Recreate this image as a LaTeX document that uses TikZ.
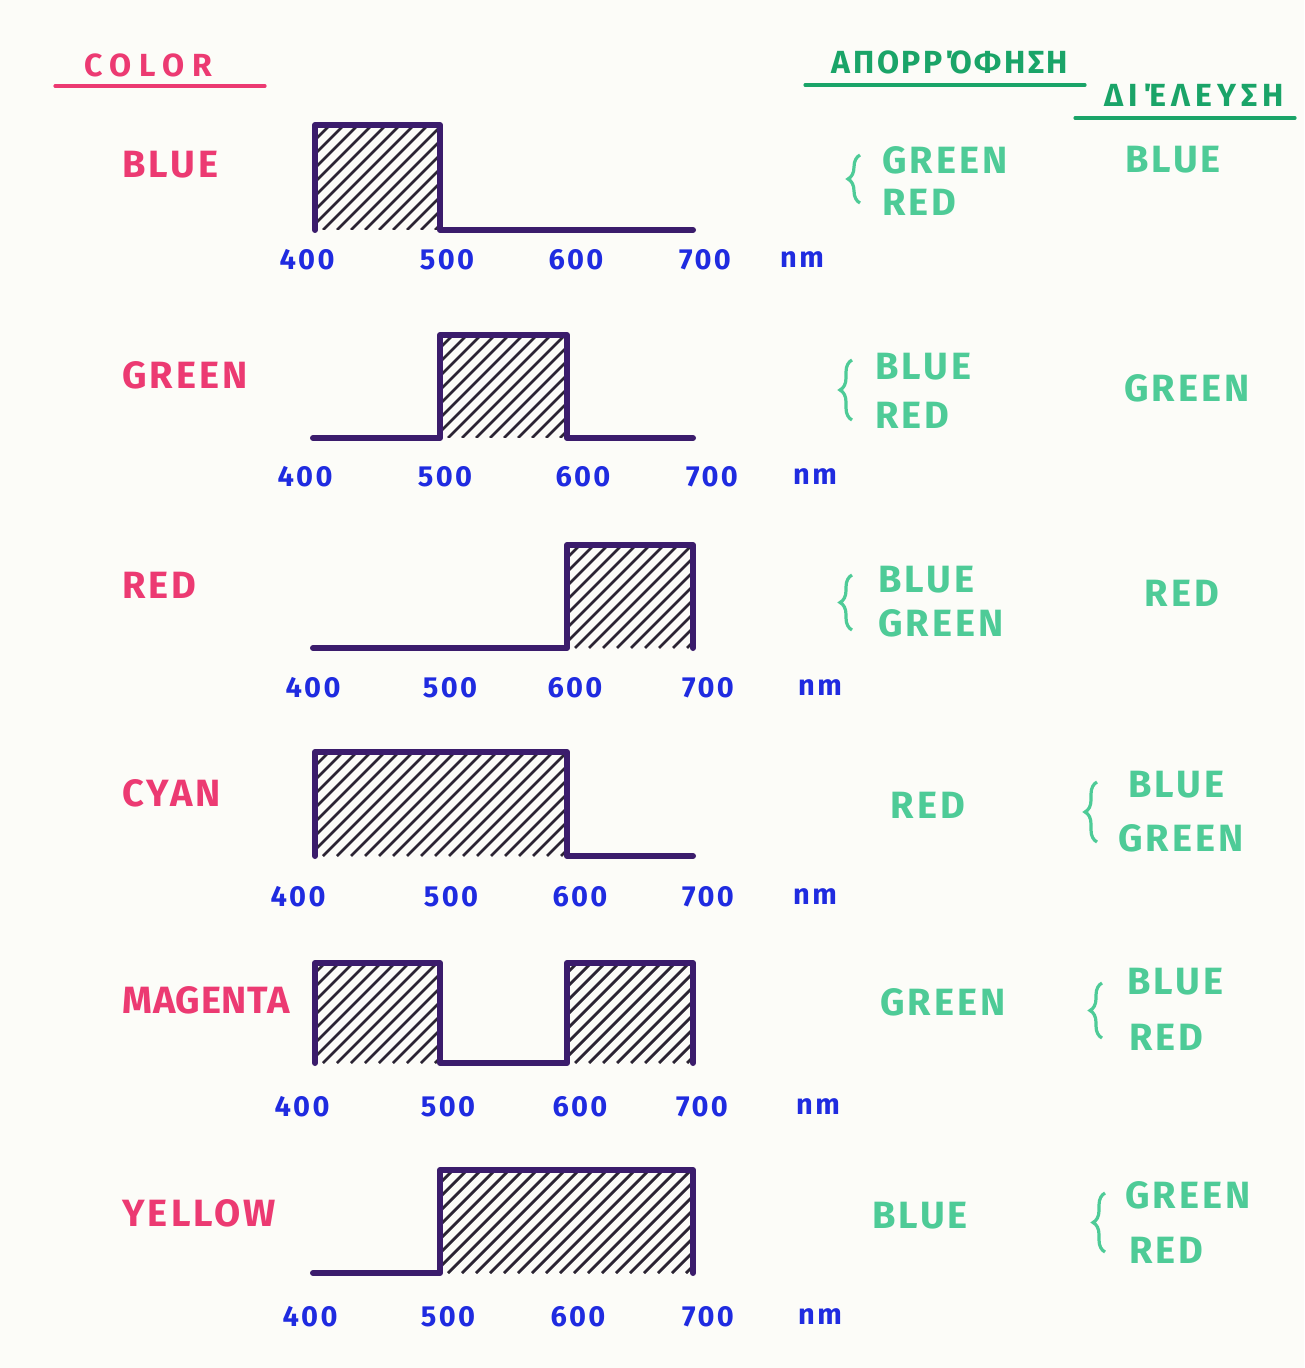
\documentclass[tikz,border=0pt]{standalone}
\usepackage{fontspec}
\setmainfont{Fira Sans}[LetterSpace=8]
\usetikzlibrary{decorations.pathreplacing}
\definecolor{colorpink}{HTML}{EC3A72}
\definecolor{mintgreen}{HTML}{4ECB97}
\definecolor{headgreen}{HTML}{1AA468}
\definecolor{tickblue}{HTML}{1F2BE0}
\definecolor{curvepurple}{HTML}{3B1C6C}
\definecolor{hatchgray}{HTML}{2B2433}
\definecolor{paper}{HTML}{FCFCF8}
\tikzset{
  colorlabel/.style={font=\bfseries\fontsize{19}{22}\selectfont, text=colorpink,
                     anchor=west, inner sep=0pt},
  mintlabel/.style={font=\bfseries\fontsize{19}{22}\selectfont, text=mintgreen, inner sep=0pt},
  mintleft/.style={mintlabel, anchor=west},
  headlabel/.style={font=\bfseries\fontsize{16}{19}\selectfont, text=headgreen, inner sep=0pt},
  ticklabel/.style={font=\bfseries\fontsize{14.5}{17}\selectfont, text=tickblue, inner sep=0pt},
  curve/.style={draw=curvepurple, line width=3pt, line join=round, line cap=round},
  hatchline/.style={draw=hatchgray, line width=1.4pt},
  mintbrace/.style={draw=mintgreen, line width=1.6pt, decorate,
                    decoration={brace, amplitude=6pt}},
  underline/.style={line width=1.6pt, line cap=round},
}
\newcommand{\hatchbox}[4]{%
  \begin{scope}
    \clip (#1,#2) rectangle (#3,#4);
    \foreach \s in {0,14,...,600}
      \draw[hatchline] ({#1-300+\s},#4) -- ++(300,-300);
  \end{scope}}

\begin{document}
\begin{tikzpicture}[x=0.5pt, y=-0.5pt]
  \fill[paper] (0,0) rectangle (1304,1368);
  \useasboundingbox (0,0) rectangle (1304,1368);

  % headings
  \node[colorlabel, font=\bfseries\fontsize{16}{19}\selectfont\addfontfeature{LetterSpace=24}]
    (hdColor) at (84,65) {COLOR};
  \draw[underline, colorpink] (55,86) -- (265,86);
  \node[headlabel] (hdAbs) at (950,62) {ΑΠΟΡΡΌΦΗΣΗ};
  \draw[underline, headgreen] (805,85) -- (1085,85);
  \node[headlabel, font=\bfseries\fontsize{16}{19}\selectfont\addfontfeature{LetterSpace=16}]
    (hdTrans) at (1194,95) {ΔΙΈΛΕΥΣΗ};
  \draw[underline, headgreen] (1075,118) -- (1295,118);

  % row 1: blue
  \node[colorlabel] (clrBlue) at (122,165) {BLUE};
  \hatchbox{315}{125}{440}{230}
  \draw[curve] (315,230) -- (315,125) -- (440,125) -- (440,230) -- (693,230);
  \node[ticklabel] (blueA) at (307,260) {400};
  \node[ticklabel] (blueB) at (447,260) {500};
  \node[ticklabel] (blueC) at (576,260) {600};
  \node[ticklabel] (blueD) at (705,260) {700};
  \node[ticklabel] (blueNm) at (802,260) {nm};
  \draw[mintbrace] (860,203) -- (860,155);
  \node[mintleft] (absBlueA) at (882,160) {GREEN};
  \node[mintleft] (absBlueB) at (882,202) {RED};
  \node[mintlabel] (trBlue) at (1173,160) {BLUE};

  % row 2: green
  \node[colorlabel] (clrGreen) at (122,375) {GREEN};
  \hatchbox{440}{335}{567}{438}
  \draw[curve] (313,438) -- (440,438) -- (440,335) -- (567,335) -- (567,438) -- (693,438);
  \node[ticklabel] (greenA) at (305,477) {400};
  \node[ticklabel] (greenB) at (445,477) {500};
  \node[ticklabel] (greenC) at (583,477) {600};
  \node[ticklabel] (greenD) at (712,477) {700};
  \node[ticklabel] (greenNm) at (815,477) {nm};
  \draw[mintbrace] (852,420) -- (852,360);
  \node[mintleft] (absGreenA) at (875,367) {BLUE};
  \node[mintleft] (absGreenB) at (875,415) {RED};
  \node[mintlabel] (trGreen) at (1187,388) {GREEN};

  % row 3: red
  \node[colorlabel] (clrRed) at (122,585) {RED};
  \hatchbox{567}{545}{693}{648}
  \draw[curve] (313,648) -- (567,648) -- (567,545) -- (693,545) -- (693,648);
  \node[ticklabel] (redA) at (313,688) {400};
  \node[ticklabel] (redB) at (450,688) {500};
  \node[ticklabel] (redC) at (575,688) {600};
  \node[ticklabel] (redD) at (708,688) {700};
  \node[ticklabel] (redNm) at (820,688) {nm};
  \draw[mintbrace] (852,630) -- (852,575);
  \node[mintleft] (absRedA) at (878,580) {BLUE};
  \node[mintleft] (absRedB) at (878,623) {GREEN};
  \node[mintlabel] (trRed) at (1182,593) {RED};

  % row 4: cyan
  \node[colorlabel] (clrCyan) at (122,793) {CYAN};
  \hatchbox{315}{752}{567}{856}
  \draw[curve] (315,856) -- (315,752) -- (567,752) -- (567,856) -- (693,856);
  \node[ticklabel] (cyanA) at (298,897) {400};
  \node[ticklabel] (cyanB) at (451,897) {500};
  \node[ticklabel] (cyanC) at (580,897) {600};
  \node[ticklabel] (cyanD) at (708,897) {700};
  \node[ticklabel] (cyanNm) at (815,897) {nm};
  \node[mintlabel] (absCyan) at (928,805) {RED};
  \draw[mintbrace] (1097,842) -- (1097,782);
  \node[mintleft] (trCyanA) at (1128,785) {BLUE};
  \node[mintleft] (trCyanB) at (1118,838) {GREEN};

  % row 5: magenta
  \node[colorlabel, font=\bfseries\fontsize{19}{22}\selectfont\addfontfeature{LetterSpace=2}]
    (clrMagenta) at (122,1000) {MAGENTA};
  \hatchbox{315}{963}{440}{1063}
  \hatchbox{567}{963}{693}{1063}
  \draw[curve] (315,1063) -- (315,963) -- (440,963) -- (440,1063) -- (567,1063)
               -- (567,963) -- (693,963) -- (693,1063);
  \node[ticklabel] (magentaA) at (302,1107) {400};
  \node[ticklabel] (magentaB) at (448,1107) {500};
  \node[ticklabel] (magentaC) at (580,1107) {600};
  \node[ticklabel] (magentaD) at (702,1107) {700};
  \node[ticklabel] (magentaNm) at (818,1107) {nm};
  \node[mintlabel] (absMagenta) at (943,1002) {GREEN};
  \draw[mintbrace] (1102,1038) -- (1102,983);
  \node[mintleft] (trMagentaA) at (1127,982) {BLUE};
  \node[mintleft] (trMagentaB) at (1129,1037) {RED};

  % row 6: yellow
  \node[colorlabel] (clrYellow) at (122,1213) {YELLOW};
  \hatchbox{440}{1170}{693}{1273}
  \draw[curve] (313,1273) -- (440,1273) -- (440,1170) -- (693,1170) -- (693,1273);
  \node[ticklabel] (yellowA) at (310,1317) {400};
  \node[ticklabel] (yellowB) at (448,1317) {500};
  \node[ticklabel] (yellowC) at (578,1317) {600};
  \node[ticklabel] (yellowD) at (708,1317) {700};
  \node[ticklabel] (yellowNm) at (820,1317) {nm};
  \node[mintlabel] (absYellow) at (920,1216) {BLUE};
  \draw[mintbrace] (1105,1252) -- (1105,1193);
  \node[mintleft] (trYellowA) at (1125,1195) {GREEN};
  \node[mintleft] (trYellowB) at (1129,1250) {RED};
\end{tikzpicture}
\end{document}
